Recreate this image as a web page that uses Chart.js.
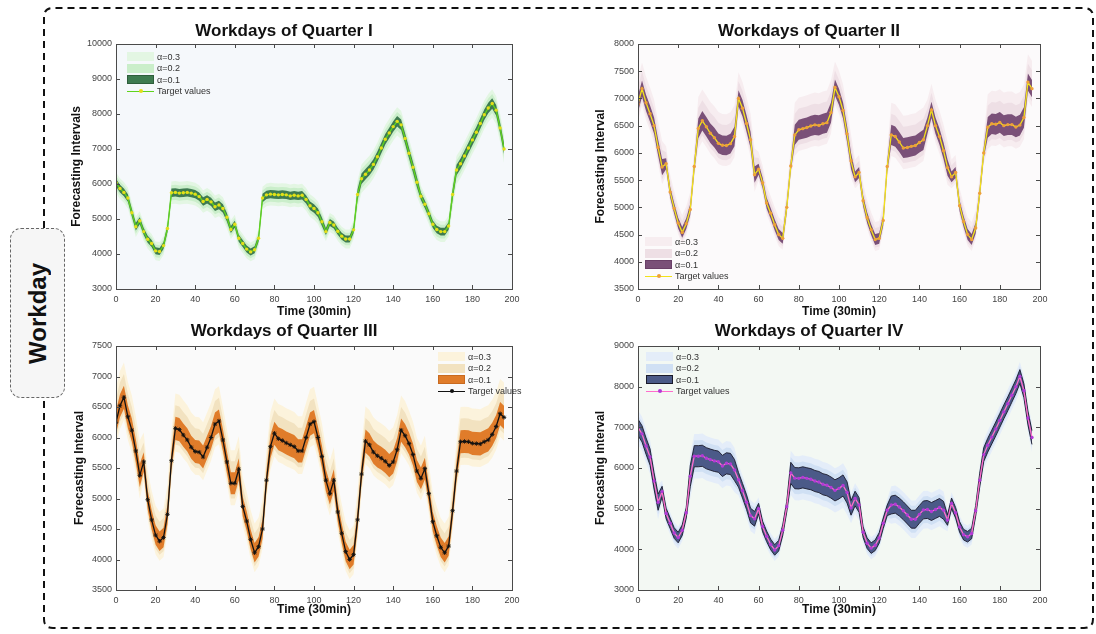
<!DOCTYPE html>
<html>
<head>
<meta charset="utf-8">
<script src="https://cdn.jsdelivr.net/npm/chart.js@4.4.1/dist/chart.umd.min.js"></script>
<style>
  html, body { margin: 0; padding: 0; background: #ffffff; }
  #stage { position: relative; width: 1096px; height: 634px; overflow: hidden;
           font-family: "Liberation Sans", Arial, Helvetica, sans-serif; }
  #stage canvas { position: absolute; }
  #frame { position: absolute; left: 0; top: 0; }
  .legend { position: absolute; font-size: 9px; color: #333; }
  .legend .row { display: flex; align-items: center; height: 11.5px; white-space: nowrap; }
  .legend .sw { display: inline-block; width: 27px; height: 9px; margin-right: 3px; box-sizing: border-box; }
  .legend .ln { position: relative; display: inline-block; width: 27px; height: 9px; margin-right: 3px; }
  .legend .ln i { position: absolute; left: 0; right: 0; top: 4px; height: 1.5px; }
  .legend .ln b { position: absolute; left: 11.5px; top: 2.5px; width: 4px; height: 4px; border-radius: 50%; }
  #workday { position: absolute; left: 10px; top: 228px; width: 55px; height: 170px; box-sizing: border-box;
             border: 1.6px dashed #666; border-radius: 11px; background: #f6f6f6;
             display: flex; align-items: center; justify-content: center; }
  #workday span { writing-mode: vertical-rl; transform: rotate(180deg); font-weight: bold; font-size: 24px; color: #111; }
</style>
</head>
<body>
<div id="stage">
  <svg id="frame" width="1096" height="634">
    <path d="M 44 228 L 44 17 Q 44 8 53 8 L 1084 8 Q 1093 8 1093 17 L 1093 619 Q 1093 628 1084 628 L 53 628 Q 44 628 44 619 L 44 398"
          fill="none" stroke="#111" stroke-width="2" stroke-dasharray="7 5"/>
  </svg>
  <div id="workday"><span>Workday</span></div>
</div>
<script>
// Half-hour time steps shared by all four quarters
const timeSteps = [0,2,4,6,8,10,12,14,16,18,
  20,22,24,26,28,30,32,34,36,38,
  40,42,44,46,48,50,52,54,56,58,
  60,62,64,66,68,70,72,74,76,78,
  80,82,84,86,88,90,92,94,96,98,
  100,102,104,106,108,110,112,114,116,118,
  120,122,124,126,128,130,132,134,136,138,
  140,142,144,146,148,150,152,154,156,158,
  160,162,164,166,168,170,172,174,176,178,
  180,182,184,186,188,190,192,194,196];
const timeTicks = [0,20,40,60,80,100,120,140,160,180,200];

// Quarter I
const q1Target = [6040,5870,5760,5600,5180,4780,4950,4640,4420,4300,
  4090,4070,4240,4730,5750,5760,5740,5750,5760,5740,
  5710,5640,5500,5560,5490,5350,5400,5300,5050,4700,
  4850,4450,4300,4140,4060,4120,4450,5600,5690,5710,
  5700,5690,5700,5690,5660,5680,5660,5680,5560,5380,
  5300,5180,4920,4640,4900,4830,4650,4510,4430,4430,
  4690,5700,6150,6280,6400,6560,6780,7030,7280,7460,
  7640,7790,7690,7300,6880,6480,6050,5650,5420,5150,
  4850,4700,4640,4640,4800,5700,6400,6580,6800,7030,
  7260,7480,7730,7980,8170,8300,8110,7600,7000];
const q1Spread = [110,110,110,110,110,110,100,100,100,100,
  100,100,100,100,120,120,120,120,120,120,
  120,120,120,120,120,120,120,120,120,100,
  100,100,100,100,100,100,100,120,120,120,
  120,120,120,120,120,120,120,120,120,120,
  120,120,120,100,100,100,100,100,100,100,
  100,150,150,150,150,150,150,150,150,150,
  150,150,150,150,150,150,150,110,110,110,
  110,110,110,110,110,150,150,150,150,150,
  150,150,150,150,150,150,150,150,150];
const q1BandUp = [1, 1.8, 2.7];
const q1BandDown = [1, 1.8, 2.7];
const q1YTicks = [3000,4000,5000,6000,7000,8000,9000,10000];

// Quarter II
const q2Target = [6900,7180,6920,6720,6500,6100,5740,5800,5280,4980,
  4710,4540,4700,4960,5750,6450,6590,6480,6360,6280,
  6175,6140,6135,6170,6300,7000,6820,6540,6240,5600,
  5700,5450,5080,4890,4680,4500,4430,5000,5760,6330,
  6425,6445,6465,6495,6515,6505,6535,6555,6740,7200,
  7030,6780,6350,5850,5560,5640,5120,4810,4590,4410,
  4430,4760,5750,6330,6300,6200,6090,6100,6120,6135,
  6190,6240,6500,6790,6500,6300,6040,5730,5560,5640,
  5030,4740,4500,4410,4620,5260,6000,6470,6535,6525,
  6560,6500,6520,6520,6475,6510,6650,7300,7180];
const q2Spread = [150,150,150,150,150,150,150,100,100,100,
  100,100,100,100,100,180,180,180,180,180,
  180,180,180,180,180,150,150,150,150,150,
  100,100,100,100,100,100,100,100,100,185,
  185,185,185,185,185,185,185,185,185,150,
  150,150,150,150,100,100,100,100,100,100,
  100,100,100,185,185,185,185,185,185,185,
  185,185,150,150,150,150,150,150,100,100,
  100,100,100,100,100,100,100,190,190,190,
  190,190,190,190,190,190,190,160,160];
const q2BandUp = [1, 2.1, 3.2];
const q2BandDown = [1, 1.5, 2.1];
const q2YTicks = [3500,4000,4500,5000,5500,6000,6500,7000,7500,8000];

// Quarter III
const q3Target = [6250,6520,6660,6340,6120,5780,5380,5600,4980,4650,
  4400,4300,4360,4740,5620,6150,6130,6040,5960,5840,
  5770,5760,5680,5840,6000,6220,6270,5960,5600,5250,
  5250,5480,4870,4630,4330,4110,4210,4500,5300,5850,
  6070,5980,5950,5910,5880,5850,5780,5780,6000,6220,
  6260,6000,5690,5300,5080,5300,4780,4430,4130,4000,
  4080,4650,5400,5940,5880,5760,5700,5660,5610,5540,
  5600,5800,6120,6030,5900,5720,5450,5330,5490,5080,
  4620,4390,4200,4110,4220,4800,5450,5930,5935,5930,
  5905,5900,5895,5930,5960,6050,6180,6390,6330];
const q3Spread = [190,190,190,190,190,190,190,160,160,160,
  160,160,160,160,160,190,190,190,190,190,
  190,190,190,190,190,190,190,180,180,180,
  180,180,160,160,160,160,160,160,160,190,
  190,190,190,190,190,190,190,190,190,190,
  190,180,180,180,180,180,160,160,160,160,
  160,160,160,190,190,190,190,190,190,190,
  190,190,190,190,180,180,180,180,180,160,
  160,160,160,160,160,160,160,190,190,190,
  190,190,190,190,190,190,190,190,190];
const q3BandUp = [1, 2.0, 3.0];
const q3BandDown = [1, 1.4, 2.0];
const q3YTicks = [3500,4000,4500,5000,5500,6000,6500,7000,7500];

// Quarter IV
const q4Target = [7000,6840,6540,6270,5680,5160,5420,4880,4640,4400,
  4290,4470,4900,5800,6290,6290,6300,6240,6205,6175,
  6155,6050,6115,6100,5950,5710,5440,5160,4830,4750,
  5000,4560,4320,4120,3985,4090,4470,5050,5880,5750,
  5745,5770,5746,5725,5680,5655,5600,5575,5520,5450,
  5500,5570,5400,5020,5250,5090,4420,4150,4030,4100,
  4280,4640,4960,5090,5110,5040,4950,4845,4740,4740,
  4860,4970,4980,4930,4980,5030,4960,4720,5130,4900,
  4550,4360,4310,4390,4950,5700,6330,6560,6760,6960,
  7170,7380,7580,7790,8000,8250,7900,7230,6750];
const q4Spread = [200,200,200,200,200,200,130,130,130,130,
  130,130,130,260,260,260,260,260,260,260,
  260,260,260,260,260,180,180,180,180,180,
  130,130,130,130,130,130,130,130,260,260,
  260,260,260,260,260,260,260,260,260,260,
  260,260,260,180,180,180,130,130,130,130,
  130,130,130,220,220,220,220,220,220,220,
  220,220,220,220,220,220,220,130,130,130,
  130,130,130,130,130,170,170,170,170,170,
  170,170,170,170,170,170,170,170,170];
const q4BandUp = [1, 1.5, 2.1];
const q4BandDown = [1, 1.5, 2.1];
const q4YTicks = [3000,4000,5000,6000,7000,8000,9000];

const bandLabels = ['\u03b1=0.3', '\u03b1=0.2', '\u03b1=0.1'];
const targetLabel = 'Target values';
const FONT = '"Liberation Sans", Arial, Helvetica, sans-serif';

// Panel layout and styling
const panels = [
  { title: 'Workdays of Quarter I', yTitle: 'Forecasting Intervals',
    target: q1Target, spread: q1Spread, up: q1BandUp, down: q1BandDown, yTicks: q1YTicks,
    area: { l: 116, r: 512, t: 44, b: 289 }, titleY: 31, xTitleY: 312, yTitleX: 77,
    bg: '#f5f8fb', bands: ['#e3f6e3', '#caeeca', '#3e7b50'], bandEdge: null, swEdge: '#2e5e3c',
    line: '#5fd41c', marker: '#e4de1a', pointR: 1.7, pointStyle: 'circle', legend: { x: 11, y: 7 } },
  { title: 'Workdays of Quarter II', yTitle: 'Forecasting Interval',
    target: q2Target, spread: q2Spread, up: q2BandUp, down: q2BandDown, yTicks: q2YTicks,
    area: { l: 638, r: 1040, t: 44, b: 289 }, titleY: 31, xTitleY: 312, yTitleX: 601,
    bg: '#fcfafb', bands: ['#f7edf0', '#eedfe5', '#7a5078'], bandEdge: null, swEdge: '#6a4068',
    line: '#f2e21a', marker: '#eea03a', pointR: 1.7, pointStyle: 'circle', legend: { x: 7, y: 192 } },
  { title: 'Workdays of Quarter III', yTitle: 'Forecasting Interval',
    target: q3Target, spread: q3Spread, up: q3BandUp, down: q3BandDown, yTicks: q3YTicks,
    area: { l: 116, r: 512, t: 346, b: 590 }, titleY: 331, xTitleY: 610, yTitleX: 80,
    bg: '#fafafa', bands: ['#fcf3dc', '#f2e2c0', '#e07c2a'], bandEdge: null, swEdge: '#c86a20',
    line: '#111111', marker: '#111111', pointR: 2.2, pointStyle: 'star', legend: { x: 322, y: 5 } },
  { title: 'Workdays of Quarter IV', yTitle: 'Forecasting Interval',
    target: q4Target, spread: q4Spread, up: q4BandUp, down: q4BandDown, yTicks: q4YTicks,
    area: { l: 638, r: 1040, t: 346, b: 590 }, titleY: 331, xTitleY: 610, yTitleX: 601,
    bg: '#f3f8f3', bands: ['#e4edf9', '#d0e0f4', '#4b5a88'], bandEdge: '#1a1a2a', swEdge: '#1a1a2a',
    line: '#ff6ccc', marker: '#b23ad6', pointR: 1.7, pointStyle: 'circle', legend: { x: 8, y: 5 } }
];

const SIDE = 60, TOP = 36, BOTTOM = 34;

// Plot-area background, box outline and inward tick marks
const panelFrame = {
  id: 'panelFrame',
  beforeDatasetsDraw(chart, args, opts) {
    const { ctx, chartArea: a } = chart;
    ctx.save();
    ctx.fillStyle = opts.bg;
    ctx.fillRect(a.left, a.top, a.right - a.left, a.bottom - a.top);
    ctx.restore();
  },
  afterDraw(chart) {
    const { ctx, chartArea: a, scales } = chart;
    ctx.save();
    ctx.strokeStyle = '#4a4a4a';
    ctx.lineWidth = 1;
    ctx.strokeRect(Math.round(a.left) + 0.5, Math.round(a.top) + 0.5,
                   Math.round(a.right - a.left), Math.round(a.bottom - a.top));
    ctx.beginPath();
    scales.x.ticks.forEach(t => {
      const px = Math.round(scales.x.getPixelForValue(t.value)) + 0.5;
      ctx.moveTo(px, a.bottom); ctx.lineTo(px, a.bottom - 4);
      ctx.moveTo(px, a.top); ctx.lineTo(px, a.top + 4);
    });
    scales.y.ticks.forEach(t => {
      const py = Math.round(scales.y.getPixelForValue(t.value)) + 0.5;
      ctx.moveTo(a.left, py); ctx.lineTo(a.left + 4, py);
      ctx.moveTo(a.right, py); ctx.lineTo(a.right - 4, py);
    });
    ctx.stroke();
    ctx.restore();
  }
};

function toPoints(values) {
  return timeSteps.map((t, i) => ({ x: t, y: values[i] }));
}

function buildPanel(p) {
  const stage = document.getElementById('stage');
  const plotW = p.area.r - p.area.l, plotH = p.area.b - p.area.t;
  const w = plotW + SIDE * 2, h = plotH + TOP + BOTTOM;
  const cx = p.area.l - SIDE, cy = p.area.t - TOP;
  const canvas = document.createElement('canvas');
  canvas.width = w; canvas.height = h;
  canvas.style.left = cx + 'px'; canvas.style.top = cy + 'px';
  canvas.style.width = w + 'px'; canvas.style.height = h + 'px';
  stage.appendChild(canvas);

  const datasets = [{
    label: targetLabel, data: toPoints(p.target),
    borderColor: p.line, borderWidth: 1.3, tension: 0, fill: false,
    pointRadius: p.pointR, pointStyle: p.pointStyle,
    pointBackgroundColor: p.marker, pointBorderColor: p.marker,
    pointBorderWidth: p.pointStyle === 'star' ? 0.9 : 0
  }];
  // bands: k = 0 -> alpha 0.1 (on top), k = 2 -> alpha 0.3 (underneath)
  for (let k = 0; k < 3; k++) {
    const color = p.bands[2 - k];
    const upper = p.target.map((v, i) => v + p.spread[i] * p.up[k]);
    const lower = p.target.map((v, i) => v - p.spread[i] * p.down[k]);
    const edge = (k === 0 && p.bandEdge) ? p.bandEdge : 'rgba(0,0,0,0)';
    const edgeW = (k === 0 && p.bandEdge) ? 0.9 : 0;
    datasets.push({ label: bandLabels[2 - k] + ' upper', data: toPoints(upper), borderColor: edge,
      borderWidth: edgeW, pointRadius: 0, tension: 0, fill: false });
    datasets.push({ label: bandLabels[2 - k], data: toPoints(lower), borderColor: edge,
      borderWidth: edgeW, pointRadius: 0, tension: 0, fill: '-1', backgroundColor: color });
  }

  const titleTop = p.titleY - cy - 10.2;
  const xTitleBottom = p.area.b + BOTTOM - p.xTitleY - 7.2;
  const yTitleTop = p.yTitleX - cx - 7.2;

  new Chart(canvas, {
    type: 'line',
    data: { datasets },
    options: {
      responsive: false, animation: false, events: [], devicePixelRatio: 1,
      layout: { padding: { left: 0, right: SIDE, top: 0, bottom: 0 } },
      plugins: {
        legend: { display: false }, tooltip: { enabled: false },
        title: { display: true, text: p.title, color: '#111',
          font: { family: FONT, size: 17, weight: 'bold', lineHeight: 1.2 },
          padding: { top: titleTop, bottom: TOP - titleTop - 20.4 } },
        panelFrame: { bg: p.bg }
      },
      scales: {
        x: {
          type: 'linear', min: 0, max: 200,
          grid: { display: false, drawTicks: false }, border: { display: false },
          ticks: { font: { family: FONT, size: 9 }, color: '#444', padding: 5,
                   maxRotation: 0, autoSkip: false, callback: v => String(v) },
          afterBuildTicks: s => { s.ticks = timeTicks.map(v => ({ value: v })); },
          afterFit: s => { s.height = BOTTOM; s.paddingLeft = 0; s.paddingRight = 0; },
          title: { display: true, text: 'Time (30min)', color: '#111',
                   font: { family: FONT, size: 12, weight: 'bold', lineHeight: 1.2 },
                   padding: { top: 0, bottom: xTitleBottom } }
        },
        y: {
          type: 'linear', min: p.yTicks[0], max: p.yTicks[p.yTicks.length - 1],
          grid: { display: false, drawTicks: false }, border: { display: false },
          ticks: { font: { family: FONT, size: 9 }, color: '#444', padding: 4,
                   autoSkip: false, callback: v => String(v) },
          afterBuildTicks: s => { s.ticks = p.yTicks.map(v => ({ value: v })); },
          afterFit: s => { s.width = SIDE; s.paddingTop = 0; s.paddingBottom = 0; },
          title: { display: true, text: p.yTitle, color: '#111',
                   font: { family: FONT, size: 12, weight: 'bold', lineHeight: 1.2 },
                   padding: { top: yTitleTop, bottom: 0 } }
        }
      }
    },
    plugins: [panelFrame]
  });

  // legend inside the plot area
  const lg = document.createElement('div');
  lg.className = 'legend';
  lg.style.left = (p.area.l + p.legend.x) + 'px';
  lg.style.top = (p.area.t + p.legend.y) + 'px';
  bandLabels.forEach((lab, k) => {
    const row = document.createElement('div'); row.className = 'row';
    const sw = document.createElement('span'); sw.className = 'sw';
    sw.style.background = p.bands[k];
    if (k === 2) sw.style.border = '1px solid ' + p.swEdge;
    const tx = document.createElement('span'); tx.textContent = lab;
    row.appendChild(sw); row.appendChild(tx); lg.appendChild(row);
  });
  const row = document.createElement('div'); row.className = 'row';
  const ln = document.createElement('span'); ln.className = 'ln';
  const bar = document.createElement('i'); bar.style.background = p.line;
  const dot = document.createElement('b'); dot.style.background = p.marker;
  ln.appendChild(bar); ln.appendChild(dot);
  const tx = document.createElement('span'); tx.textContent = targetLabel;
  row.appendChild(ln); row.appendChild(tx); lg.appendChild(row);
  stage.appendChild(lg);
}

panels.forEach(buildPanel);
</script>
</body>
</html>
